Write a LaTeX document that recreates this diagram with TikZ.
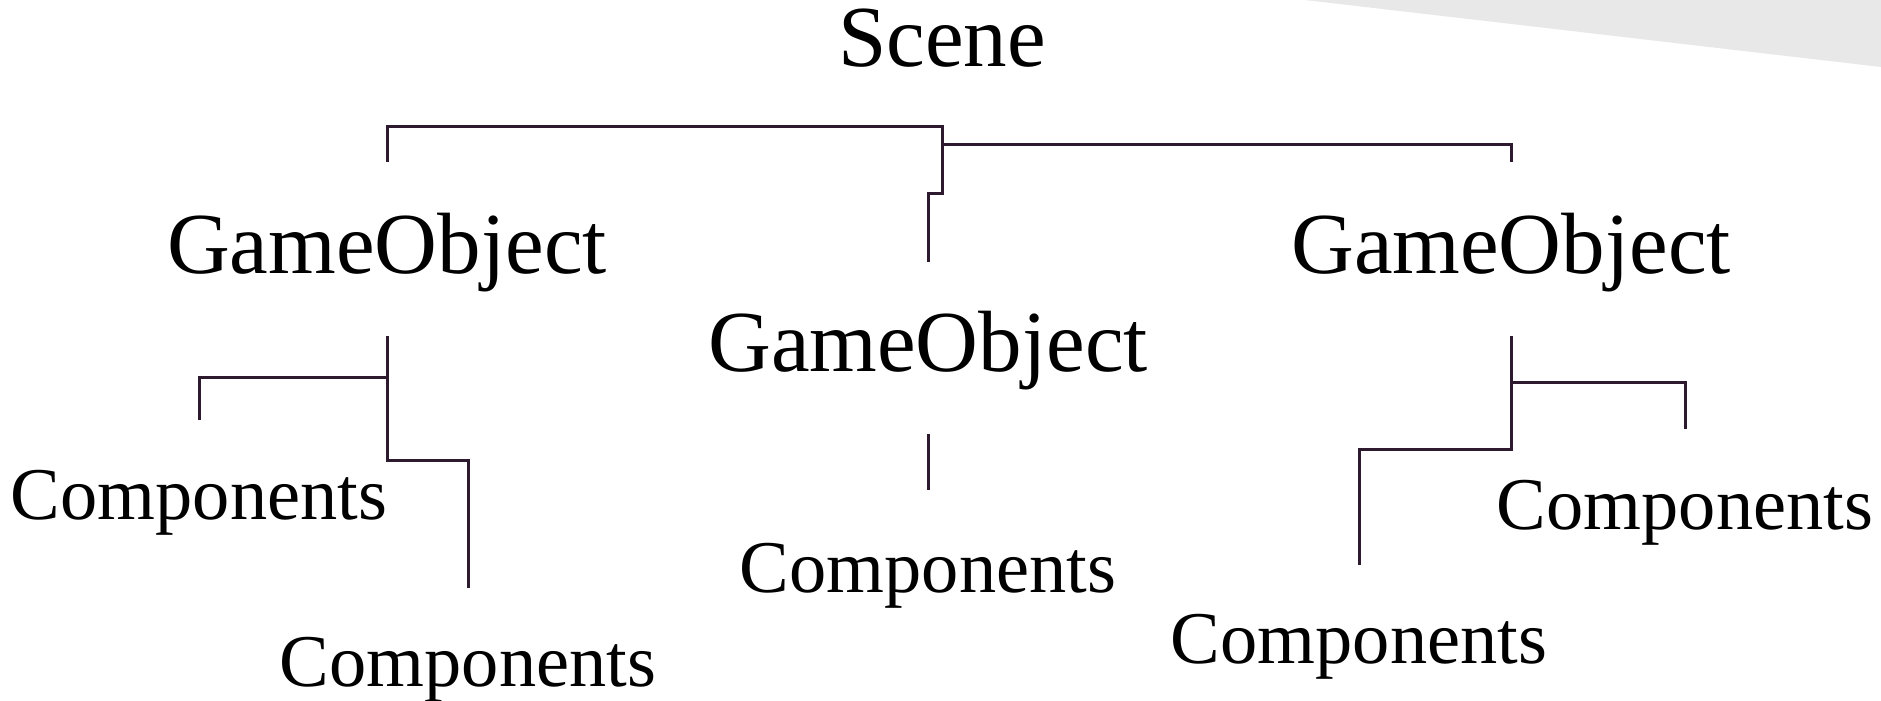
\documentclass[tikz,border=0pt]{standalone}
\usepackage{fontspec}
\setmainfont{Liberation Serif}
\usepackage{tikz}
\definecolor{linkcol}{HTML}{2E1A2E}
\definecolor{sheetgray}{HTML}{E8E8E8}
\tikzset{
	link/.style={line width=1.5pt, color=linkcol},
	bigtext/.style={anchor=base, inner sep=0pt, font=\fontsize{43.5}{43.5}\selectfont},
	comptext/.style={anchor=base, inner sep=0pt, font=\fontsize{37.2}{37.2}\selectfont}
}

\begin{document}
\begin{tikzpicture}[x=0.5pt, y=-0.5pt]
			%%%%% START %%%%%
			\useasboundingbox (0, 0) rectangle (1881, 701);
			
			\fill[sheetgray] (1305, 0) -- (1881, 0) -- (1881, 67) -- cycle;
			
			\node[bigtext] (scene) at (942, 67) {Scene};
			
			\node[bigtext] (goA) at (387, 273) {GameObject};
			\node[bigtext] (goB) at (928, 371) {GameObject};
			\node[bigtext] (goC) at (1511, 273) {GameObject};
			
			\node[comptext] (compA1) at (199, 519) {Components};
			\node[comptext] (compA2) at (468, 686) {Components};
			\node[comptext] (compB) at (928, 592) {Components};
			\node[comptext] (compC1) at (1685, 529) {Components};
			\node[comptext] (compC2) at (1359, 663) {Components};
			
			% scene to the game objects
			\draw[link] (goA |- 0,162) |- (scene |- 0,127) -- (scene |- 0,194) -| (goB |- 0,262);
			\draw[link] (scene |- 0,145) -| (goC |- 0,162);
			
			% game objects to their components
			\draw[link] (goA |- 0,336) -- (goA |- 0,460) -| (compA2 |- 0,588);
			\draw[link] (goA |- 0,377) -| (compA1 |- 0,420);
			
			\draw[link] (goB |- 0,434) -- (compB |- 0,490);
			
			\draw[link] (goC |- 0,336) -- (goC |- 0,449) -| (compC2 |- 0,565);
			\draw[link] (goC |- 0,382) -| (compC1 |- 0,429);
			
			%%%%% END %%%%%
		\end{tikzpicture}
\end{document}
